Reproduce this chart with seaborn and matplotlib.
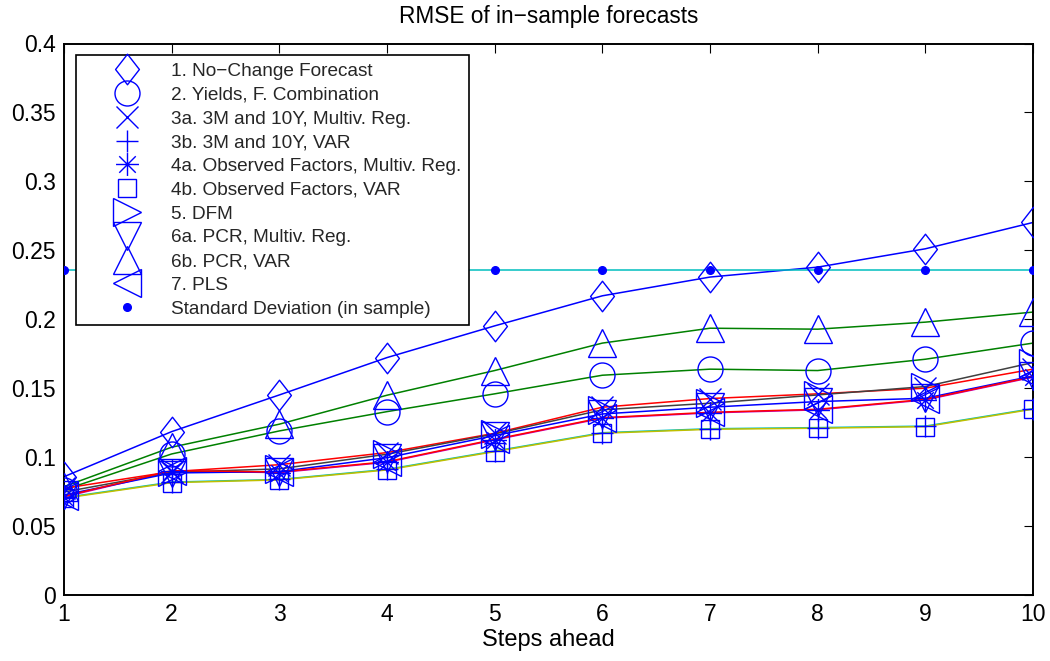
import numpy as np
import pandas as pd
import matplotlib
matplotlib.use("Agg")
import matplotlib.pyplot as plt
from matplotlib.path import Path
import seaborn as sns

# Forecast horizons
steps = [1, 2, 3, 4, 5, 6, 7, 8, 9, 10]

# RMSE per model and horizon
rmse_no_change = [0.0858, 0.1185, 0.1451, 0.1722, 0.1952, 0.2170, 0.2306, 0.2378, 0.2511, 0.2702]
rmse_yields_comb = [0.0762, 0.1023, 0.1190, 0.1330, 0.1459, 0.1594, 0.1638, 0.1628, 0.1710, 0.1827]
rmse_3m10y_reg = [0.0774, 0.0895, 0.0945, 0.1033, 0.1173, 0.1362, 0.1425, 0.1459, 0.1500, 0.1638]
rmse_3m10y_var = [0.0706, 0.0819, 0.0838, 0.0911, 0.1044, 0.1177, 0.1206, 0.1214, 0.1225, 0.1352]
rmse_obs_reg = [0.0711, 0.0898, 0.0888, 0.0963, 0.1125, 0.1282, 0.1321, 0.1343, 0.1415, 0.1580]
rmse_obs_var = [0.0702, 0.0815, 0.0835, 0.0907, 0.1040, 0.1173, 0.1202, 0.1210, 0.1221, 0.1348]
rmse_dfm = [0.0747, 0.0890, 0.0915, 0.1021, 0.1168, 0.1343, 0.1391, 0.1451, 0.1512, 0.1686]
rmse_pcr_reg = [0.0726, 0.0885, 0.0895, 0.0996, 0.1156, 0.1313, 0.1362, 0.1403, 0.1427, 0.1589]
rmse_pcr_var = [0.0786, 0.1072, 0.1239, 0.1449, 0.1628, 0.1827, 0.1935, 0.1928, 0.1979, 0.2052]
rmse_pls = [0.0716, 0.0902, 0.0892, 0.0967, 0.1129, 0.1286, 0.1325, 0.1347, 0.1419, 0.1584]
std_in_sample = [0.2356] * 10

model_labels = [
    "1. No\u2212Change Forecast",
    "2. Yields, F. Combination",
    "3a. 3M and 10Y, Multiv. Reg.",
    "3b. 3M and 10Y, VAR",
    "4a. Observed Factors, Multiv. Reg.",
    "4b. Observed Factors, VAR",
    "5. DFM",
    "6a. PCR, Multiv. Reg.",
    "6b. PCR, VAR",
    "7. PLS",
]
std_label = "Standard Deviation (in sample)"
model_values = [rmse_no_change, rmse_yields_comb, rmse_3m10y_reg, rmse_3m10y_var,
                rmse_obs_reg, rmse_obs_var, rmse_dfm, rmse_pcr_reg, rmse_pcr_var, rmse_pls]

y_ticks = [0, 0.05, 0.1, 0.15, 0.2, 0.25, 0.3, 0.35, 0.4]
y_tick_labels = ["0", "0.05", "0.1", "0.15", "0.2", "0.25", "0.3", "0.35", "0.4"]

# Classic MATLAB colour order, cycled over the series
color_order = [(0, 0, 1), (0, 0.5, 0), (1, 0, 0), (0, 0.75, 0.75),
               (0.75, 0, 0.75), (0.75, 0.75, 0), (0.25, 0.25, 0.25)]

# Marker shapes
diamond = Path([(0, 1), (0.78, 0), (0, -1), (-0.78, 0), (0, 1)],
               [Path.MOVETO, Path.LINETO, Path.LINETO, Path.LINETO, Path.CLOSEPOLY])
d = 0.72
asterisk = Path([(0, -1), (0, 1), (-1, 0), (1, 0), (-d, -d), (d, d), (-d, d), (d, -d)],
                [Path.MOVETO, Path.LINETO] * 4)
markers = [(diamond, 22), ("o", 18), ("x", 15.5), ("+", 16.5), (asterisk, 16.5),
           ("s", 13.5), (">", 19.5), ("v", 20), ("^", 20), ("<", 19.5)]

sns.set_theme(style="white")
plt.rcParams["font.family"] = ["Liberation Sans", "DejaVu Sans"]

fig = plt.figure(figsize=(10.5, 6.61), dpi=100)
ax = fig.add_axes([64 / 1050, 1 - 595 / 661, (1033 - 64) / 1050, (595 - 43.5) / 661])

# Long table for the coloured connecting lines
names = model_labels + [std_label]
values = model_values + [std_in_sample]
df = pd.DataFrame({
    "step": np.tile(steps, len(names)),
    "rmse": np.concatenate(values),
    "model": np.repeat(names, len(steps)),
})
palette = {n: color_order[i % len(color_order)] for i, n in enumerate(names)}
sns.lineplot(data=df, x="step", y="rmse", hue="model", hue_order=names,
             palette=palette, legend=False, linewidth=1.1, errorbar=None,
             sort=False, ax=ax, zorder=2)

# Blue hollow markers, one series per model
handles = []
for lab, vals, (mk, ms) in zip(model_labels, model_values, markers):
    h, = ax.plot(steps, vals, linestyle="none", marker=mk, markersize=ms,
                 markerfacecolor="none", markeredgecolor="blue",
                 markeredgewidth=1.0, label=lab, zorder=3)
    handles.append(h)
h, = ax.plot(steps, std_in_sample, linestyle="none", marker="o", markersize=5.5,
             markerfacecolor="blue", markeredgecolor="blue", label=std_label, zorder=3)
handles.append(h)

ax.set_xlim(1, 10)
ax.set_ylim(0, 0.4)
ax.set_xticks(steps)
ax.set_xticklabels([str(s) for s in steps])
ax.set_yticks(y_ticks)
ax.set_yticklabels(y_tick_labels)
ax.tick_params(direction="in", top=True, right=True, length=6.5, width=0.8,
               colors="black", labelsize=16.5, pad=6)
for sp in ax.spines.values():
    sp.set_visible(True)
    sp.set_color("black")
    sp.set_linewidth(1.4)

ax.set_xlabel("Steps ahead", fontsize=17, labelpad=2, color="black")
ax.set_ylabel("")
ax.set_title("RMSE of in\u2212sample forecasts", fontsize=16.3, pad=15, color="black")

leg = ax.legend(handles=handles, loc="upper left",
                bbox_to_anchor=((76 - 64) / 969, (595 - 55) / 551.5),
                borderaxespad=0, fontsize=13.7, frameon=True, fancybox=False,
                edgecolor="black", framealpha=1, borderpad=0.4,
                handlelength=4.6, handletextpad=0.0, labelspacing=0.34,
                numpoints=1)
leg.get_frame().set_linewidth(1.2)

fig.savefig("out.png", dpi=100, facecolor="white")
